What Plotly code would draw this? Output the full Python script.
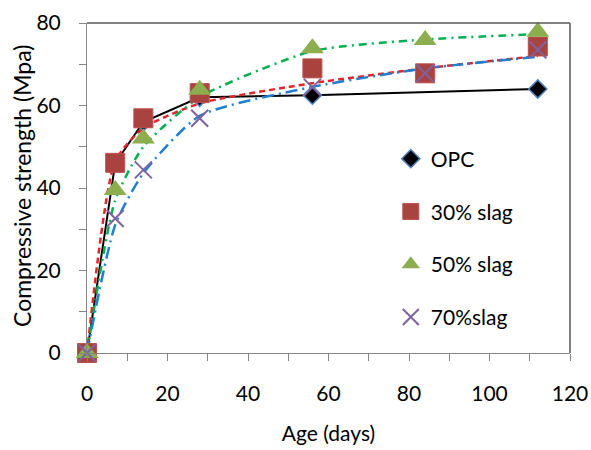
import plotly.graph_objects as go

ages = [0, 7, 14, 28, 56, 84, 112]

opc_ages = [0, 7, 14, 28, 56, 112]
opc = [0, 46, 56, 62, 62.5, 64]
slag30 = [0, 46.1, 56.9, 63, 69, 67.8, 74.3]
slag50 = [0, 39.5, 52, 63.8, 73.9, 75.9, 77.9]
slag70 = [0, 32.6, 44.4, 56.9, 64.4, 67.8, 73.5]

# trend curves
trend30 = [0, 46.5, 54.5, 60.5, 65.4, 69, 72]
trend50 = [0, 37, 50, 62, 73.2, 76, 77.3]
trend70 = [0, 31, 43.6, 57.5, 64.5, 69, 71.8]

FONT = "Lato"
fig = go.Figure()

# lines
fig.add_trace(go.Scatter(x=opc_ages, y=opc, mode="lines", line=dict(color="black", width=2), showlegend=False, hoverinfo="skip"))
fig.add_trace(go.Scatter(x=ages, y=trend30, mode="lines", line=dict(color="#E0262A", width=2.5, dash="6px,4px", shape="spline", smoothing=0.6), showlegend=False, hoverinfo="skip"))
fig.add_trace(go.Scatter(x=ages, y=trend50, mode="lines", line=dict(color="#00B050", width=2.5, dash="8px,5px,2px,5px", shape="spline", smoothing=0.6), showlegend=False, hoverinfo="skip"))
fig.add_trace(go.Scatter(x=ages, y=trend70, mode="lines", line=dict(color="#1F7FD0", width=2.5, dash="12px,5px,2px,5px", shape="spline", smoothing=0.6), showlegend=False, hoverinfo="skip"))

# markers
fig.add_trace(go.Scatter(x=opc_ages, y=opc, mode="markers", name="OPC", legendgroup="a",
                         marker=dict(symbol="diamond", size=14, color="black", line=dict(color="#4F81BD", width=1.5))))
fig.add_trace(go.Scatter(x=ages, y=slag30, mode="markers", name="30% slag", legendgroup="b",
                         marker=dict(symbol="square", size=19, color="#A8433F", line=dict(color="#C0504D", width=1))))
fig.add_trace(go.Scatter(x=ages, y=slag50, mode="markers", name="50% slag", legendgroup="c",
                         marker=dict(symbol="triangle-up", size=20, color="#8CAE4E", line=dict(width=0))))
fig.add_trace(go.Scatter(x=ages, y=slag70, mode="markers", name="70%slag", legendgroup="d",
                         marker=dict(symbol="x-thin", size=17, color="#7E63A0", line=dict(color="#7E63A0", width=2))))

fig.update_layout(
    width=591, height=450,
    margin=dict(l=87, r=21, t=23, b=97),
    paper_bgcolor="white", plot_bgcolor="white",
    font=dict(family=FONT, size=21, color="black"),
    showlegend=True,
    legend=dict(x=0.629, y=0.65, xanchor="left", yanchor="top", traceorder="grouped",
                tracegroupgap=22.5, font=dict(family=FONT, size=21), bgcolor="rgba(0,0,0,0)"),
    xaxis=dict(range=[0, 120], dtick=20, tick0=0, ticks="outside", ticklen=7, tickcolor="#868686",
               showline=True, linecolor="#868686", linewidth=1, showgrid=False, zeroline=False,
               minor=dict(dtick=10, ticks="outside", ticklen=7, tickcolor="#868686"),
               ticklabelstandoff=15, automargin=False,
               title=dict(text="Age (days)", font=dict(family=FONT, size=21), standoff=22),
               tickfont=dict(family=FONT, size=21)),
    yaxis=dict(range=[0, 80], dtick=20, tick0=0, ticks="outside", ticklen=7, tickcolor="#868686",
               showline=True, linecolor="#868686", linewidth=1, showgrid=False, zeroline=False,
               minor=dict(dtick=10, ticks="outside", ticklen=7, tickcolor="#868686"),
               ticklabelstandoff=14, automargin=False,
               tickfont=dict(family=FONT, size=21)),
)
fig.add_annotation(text="Compressive strength (Mpa)", xref="paper", yref="paper",
                   x=-0.1346, y=0.506, xanchor="center", yanchor="middle", textangle=-90,
                   showarrow=False, font=dict(family=FONT, size=23, color="black"))
fig.add_shape(type="line", xref="paper", yref="paper", x0=0, x1=1, y0=1, y1=1, line=dict(color="#595959", width=1.5))
fig.add_shape(type="line", xref="paper", yref="paper", x0=1, x1=1, y0=0, y1=1, line=dict(color="#595959", width=1.5))
for tr in fig.data:
    tr.cliponaxis = False

fig.write_html("out.html")
